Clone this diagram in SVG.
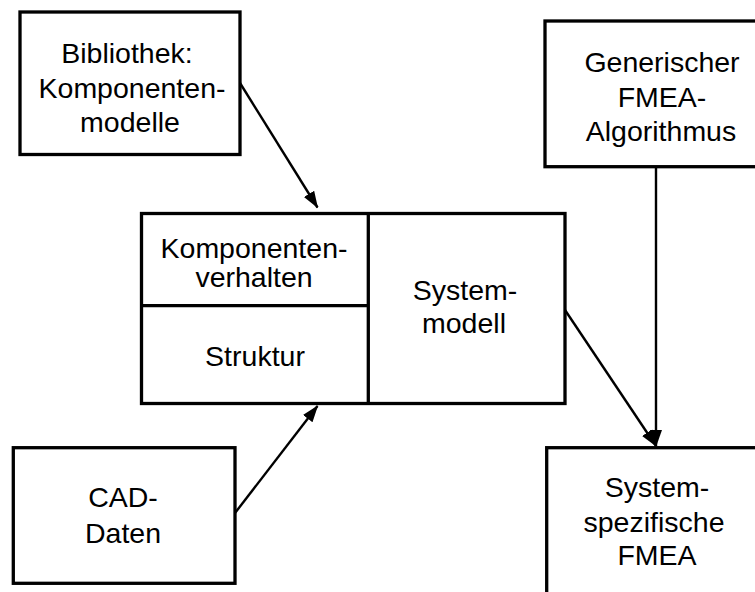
<svg xmlns="http://www.w3.org/2000/svg" width="755" height="592" viewBox="0 0 755 592">
<style>
.box{fill:#fff;stroke:#000;stroke-width:3.3}
.div{stroke:#000;stroke-width:3.3;fill:none}
.t{font-family:"Liberation Sans",Arial,sans-serif;font-size:28.5px;fill:#000;text-anchor:middle}
.c{stroke:#000;stroke-width:2.4;fill:none}
</style>
<defs>
<marker id="ah" markerUnits="userSpaceOnUse" markerWidth="18" markerHeight="14" refX="16" refY="7" orient="auto">
<path d="M0,1 L17,7 L0,13 z" fill="#000"/>
</marker>
</defs>
<rect width="755" height="592" fill="#fff"/>
<g id="bibliothek">
<rect class="box" x="20" y="12" width="220" height="142.5"/>
<text class="t" x="127" y="63">Bibliothek:</text>
<text class="t" x="132" y="98">Komponenten-</text>
<text class="t" x="130" y="132">modelle</text>
</g>
<g id="generisch">
<rect class="box" x="545" y="21" width="220" height="145.7"/>
<text class="t" x="662" y="72">Generischer</text>
<text class="t" x="662" y="107">FMEA-</text>
<text class="t" x="661" y="141">Algorithmus</text>
</g>
<g id="systemmodell">
<rect class="box" x="141.5" y="213.5" width="423.5" height="190"/>
<line class="div" x1="368.3" y1="213.5" x2="368.3" y2="403.5"/>
<line class="div" x1="141.5" y1="305.7" x2="368.3" y2="305.7"/>
</g>
<g id="komponentenverhalten">
<text class="t" x="254" y="258">Komponenten-</text>
<text class="t" x="254" y="287">verhalten</text>
</g>
<g id="struktur">
<text class="t" x="255" y="366">Struktur</text>
</g>
<g id="systemmodell-label">
<text class="t" x="465" y="300">System-</text>
<text class="t" x="464" y="333">modell</text>
</g>
<g id="cad">
<rect class="box" x="13.3" y="447.7" width="221.7" height="135.6"/>
<text class="t" x="123" y="507">CAD-</text>
<text class="t" x="123" y="543">Daten</text>
</g>
<g id="fmea">
<rect class="box" x="546.7" y="447.7" width="220" height="160"/>
<text class="t" x="657" y="497">System-</text>
<text class="t" x="654" y="532">spezifische</text>
<text class="t" x="657" y="565">FMEA</text>
</g>
<g id="connectors">
<line class="c" x1="240" y1="83" x2="317.5" y2="207.5" marker-end="url(#ah)"/>
<line class="c" x1="235" y1="513" x2="317.5" y2="406" marker-end="url(#ah)"/>
<line class="c" x1="565" y1="310" x2="656" y2="446" marker-end="url(#ah)"/>
<line class="c" x1="656" y1="167" x2="656" y2="446" marker-end="url(#ah)"/>
</g>
</svg>
